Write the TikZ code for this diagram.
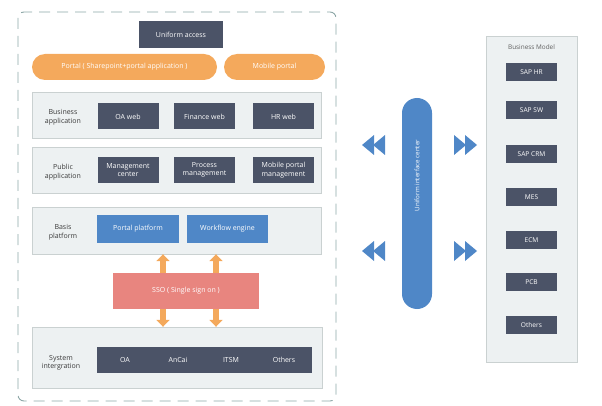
\documentclass[tikz,border=0pt]{standalone}
\usepackage{fontspec}
\setmainfont{Open Sans}
\usetikzlibrary{positioning, arrows.meta, calc}

\definecolor{slate}{HTML}{4B5367}
\definecolor{bandfill}{HTML}{EDF1F2}
\definecolor{bandline}{HTML}{CAD1D1}
\definecolor{dashline}{HTML}{8CA6A6}
\definecolor{pumpkin}{HTML}{F4A95C}
\definecolor{rosy}{HTML}{E8857F}
\definecolor{steel}{HTML}{4F87C7}
\definecolor{labelgray}{HTML}{3A3A3A}

\begin{document}
\begin{tikzpicture}[
  x=1pt, y=-1pt,
  every node/.style={align=center, inner sep=1pt, font=\fontsize{7}{8.6}\selectfont},
  panel/.style={draw=dashline, line width=0.9pt, dash pattern=on 11pt off 7pt, rounded corners=6pt},
  band/.style={draw=bandline, fill=bandfill, minimum width=289pt, minimum height=46pt},
  bandlabel/.style={text=labelgray},
  darkbox/.style={fill=slate, text=white, minimum width=61pt, minimum height=26pt},
  bluebox/.style={fill=steel, text=white, minimum width=82pt, minimum height=28pt},
  pill/.style={fill=pumpkin, text=white, minimum height=26pt, rounded corners=13pt},
  modelbox/.style={fill=slate, text=white, minimum width=51pt, minimum height=18pt, font=\fontsize{6.6}{8}\selectfont},
  fatarrow/.style={draw=pumpkin, line width=6pt, -{Triangle[width=13pt, length=7pt]}},
  ffwd/.style={fill=steel}
]

% Platform panel
\draw[panel] (18,12) rectangle (336,401);

% Access layer
\node[darkbox, minimum width=84pt, minimum height=27pt] (access) at (181,34.5) {Uniform access};
\node[pill, minimum width=185pt] (portal) at (124.5,67) {Portal ( Sharepoint+portal application )};
\node[pill, minimum width=101pt] (mobile) at (274.5,67) {Mobile portal};

% Business application
\node[band] (bizband) at (176.5,115) {};
\node[bandlabel] (bizlabel) at (63,117) {Business\\application};
\node[darkbox] (oaweb) at (128,116.5) {OA web};
\node[darkbox] (finweb) at (204.5,116.5) {Finance web};
\node[darkbox] (hrweb) at (283.5,116.5) {HR web};

% Public application
\node[band] (pubband) at (176.5,170) {};
\node[bandlabel] (publabel) at (63,172) {Public\\application};
\node[darkbox] (mgmt) at (128,170) {Management\\center};
\node[darkbox] (proc) at (204.5,170) {Process\\management};
\node[darkbox] (mobmgmt) at (283.5,170) {Mobile portal\\management};

% Basis platform
\node[band, minimum height=47pt] (basisband) at (176.5,230.5) {};
\node[bandlabel] (basislabel) at (63,232) {Basis\\platform};
\node[bluebox] (portalpf) at (138,229) {Portal platform};
\node[bluebox, minimum width=81pt] (workflow) at (227.5,229) {Workflow engine};

% SSO
\node[fill=rosy, text=white, minimum width=146pt, minimum height=36pt] (sso) at (186,291) {SSO ( Single sign on )};

% System intergration
\node[band, minimum width=290pt, minimum height=61pt] (sysband) at (177,357.5) {};
\node[bandlabel] (syslabel) at (61,363) {System\\intergration};
\node[fill=slate, minimum width=215pt, minimum height=26pt] (sysbar) at (204.5,360) {};
\node[text=white] (sysoa) at (125,360) {OA};
\node[text=white] (sysancai) at (178,360) {AnCai};
\node[text=white] (sysitsm) at (231,360) {ITSM};
\node[text=white] (sysothers) at (284,360) {Others};

% SSO arrows
\coordinate (colA) at (163,0);
\coordinate (colB) at (216,0);
\draw[fatarrow] (sso.north -| colA) -- (basisband.south -| colA);
\draw[fatarrow] (sso.north -| colB) -- (basisband.south -| colB);
\draw[fatarrow] (sso.south -| colA) -- (sysband.north -| colA);
\draw[fatarrow] (sso.south -| colB) -- (sysband.north -| colB);

% Interface center
\node[fill=steel, minimum width=30pt, minimum height=211pt, rounded corners=15pt] (uic) at (417,203.5) {};
\node[text=white, rotate=90, font=\fontsize{6.2}{7}\selectfont] (uiclabel) at ($(uic)+(0,-28)$) {Uniform interface center};

% Double arrows
\foreach \y in {145,251} {
  \fill[ffwd] (385,\y-10) -- (373,\y) -- (385,\y+10) -- cycle;
  \fill[ffwd] (374,\y-10) -- (362,\y) -- (374,\y+10) -- cycle;
  \fill[ffwd] (454,\y-10) -- (466,\y) -- (454,\y+10) -- cycle;
  \fill[ffwd] (465,\y-10) -- (477,\y) -- (465,\y+10) -- cycle;
}

% Business model
\node[draw=bandline, fill=bandfill, minimum width=91pt, minimum height=326pt] (model) at (531.5,199) {};
\node[text=labelgray!80, font=\fontsize{6.4}{7}\selectfont] (modellabel) at (531.5,47) {Business Model};
\node[modelbox] (saphr) at (531.5,72) {SAP HR};
\node[modelbox] (sapsw) at (531.5,110) {SAP SW};
\node[modelbox] (sapcrm) at (531.5,154) {SAP CRM};
\node[modelbox] (mes) at (531.5,197) {MES};
\node[modelbox] (ecm) at (531.5,240) {ECM};
\node[modelbox] (pcb) at (531.5,282) {PCB};
\node[modelbox] (modelothers) at (531.5,325) {Others};

\useasboundingbox (0,0) rectangle (602,406);
\end{tikzpicture}
\end{document}
